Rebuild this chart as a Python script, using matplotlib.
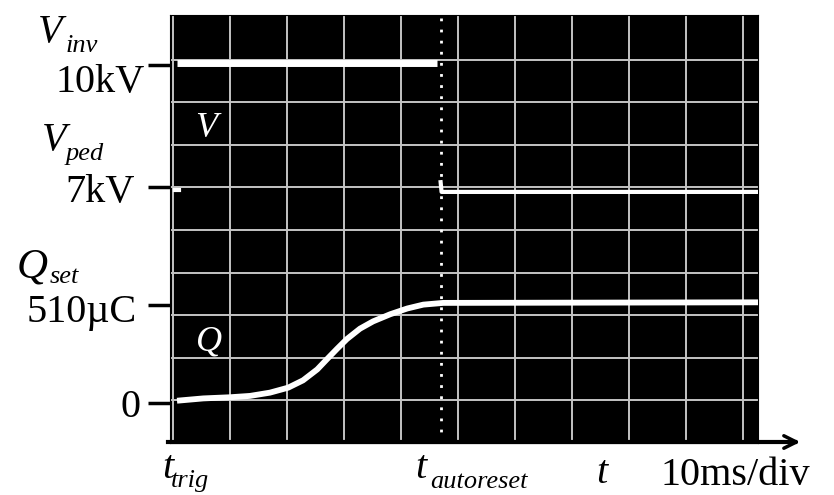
import matplotlib.pyplot as plt

plt.rcParams['font.family'] = ['Liberation Serif', 'DejaVu Serif']

# time in ms (10 ms/div), trigger at t = 0
t_reset = 47.0
v_inv_t = [0.7, 46.3]
v_inv = [10.04, 10.04]
v_ped_t = [46.9, 47.1, 102.6]
v_ped = [7.17, 6.88, 6.88]
v_mark_t = [0.3, 1.0]
v_mark = [6.93, 6.93]
q_t = [0.7, 5.3, 10.0, 13.5, 17.0, 20.2, 22.8, 25.3, 27.0, 28.8, 30.5,
       32.8, 35.1, 38.1, 41.1, 43.9, 47.4, 102.6]
q_uc = [12, 24, 30, 37, 54, 80, 118, 175, 228, 283, 333,
        387, 425, 462, 492, 512, 521, 524]
v_ticks = [10, 7]
q_ticks = [510, 0]

W, H = 834, 495
def fx(px):
    return px / W
def fy(py):
    return 1 - py / H

fig = plt.figure(figsize=(W / 100, H / 100), dpi=100, facecolor='white')
pos = [fx(170), fy(443), (758 - 170) / W, (443 - 15) / H]

# oscilloscope screen with graticule (divisions)
screen = fig.add_axes(pos, facecolor='black')
screen.set_xlim(-0.053, 10.26)
screen.set_ylim(0, 10.05)
for k in range(11):
    screen.axvline(k, color='#c4c4c4', lw=1.4, zorder=1)
for k in range(1, 10):
    screen.axhline(k, color='#c4c4c4', lw=1.4, zorder=1)
screen.set_xticks([])
screen.set_yticks([])
for s in screen.spines.values():
    s.set_color('black')

# voltage channel
ax_v = fig.add_axes(pos, facecolor='none')
ax_v.set_xlim(-0.53, 102.6)
ax_v.set_ylim(0.706, 11.23)
ax_v.plot(v_inv_t, v_inv, color='white', lw=5, solid_capstyle='butt')
ax_v.plot(v_ped_t, v_ped, color='white', lw=3, solid_capstyle='butt')
ax_v.plot(v_mark_t, v_mark, color='white', lw=3)
ax_v.axvline(t_reset, color='white', lw=2, ls=(0, (1, 3)))
ax_v.set_xticks([])
ax_v.set_yticks(v_ticks)
ax_v.set_yticklabels([])
ax_v.tick_params(axis='y', length=16, width=2.5, color='black', direction='out')
for s in ax_v.spines.values():
    s.set_visible(False)

# charge channel
ax_q = ax_v.twinx()
ax_q.set_ylim(-208, 2019)
ax_q.plot(q_t, q_uc, color='white', lw=4.2, solid_capstyle='butt',
          solid_joinstyle='round')
ax_q.yaxis.tick_left()
ax_q.set_yticks(q_ticks)
ax_q.set_yticklabels([])
ax_q.tick_params(axis='y', length=16, width=2.5, color='black', direction='out')
for s in ax_q.spines.values():
    s.set_visible(False)

# time axis arrow
fig.add_artist(plt.Line2D([fx(168), fx(795)], [fy(442), fy(442)],
                          color='black', lw=3))
ax_v.annotate('', xy=(fx(803), fy(442)), xytext=(fx(770), fy(442)),
              xycoords='figure fraction', textcoords='figure fraction',
              arrowprops=dict(arrowstyle='->,head_length=0.9,head_width=0.45',
                              color='black', lw=2.5))

fs = 29
sub_fs = 19

def sym(x, y, main, sub, sx, sy, color='black', size=fs):
    fig.text(fx(x), fy(y), main, fontsize=size, style='italic', color=color,
             ha='left', va='baseline')
    fig.text(fx(sx), fy(sy), sub, fontsize=sub_fs, style='italic', color=color,
             ha='left', va='baseline')

# left labels
fig.text(fx(145), fy(92), '10kV', fontsize=fs, ha='right', va='baseline')
fig.text(fx(135), fy(202), '7kV', fontsize=fs, ha='right', va='baseline')
fig.text(fx(137), fy(322), '510\u00b5C', fontsize=fs, ha='right', va='baseline')
fig.text(fx(140), fy(417), '0', fontsize=fs, ha='right', va='baseline')
sym(38, 42, 'V', 'inv', 66, 52)
sym(42, 150, 'V', 'ped', 66, 160)
sym(17, 277, 'Q', 'set', 50, 283, size=31)

# time labels
sym(162, 478, 't', 'trig', 171, 487)
sym(415, 478, 't', 'autoreset', 430, 488)
fig.text(fx(596), fy(483), 't', fontsize=fs, style='italic', ha='left', va='baseline')
fig.text(fx(660), fy(485), '10ms/div', fontsize=fs, ha='left', va='baseline')

# trace names on the screen
fig.text(fx(195), fy(137), 'V', fontsize=26, style='italic', color='white',
         ha='left', va='baseline')
fig.text(fx(196), fy(350), 'Q', fontsize=26, style='italic', color='white',
         ha='left', va='baseline')

fig.savefig('out.png', dpi=100, facecolor='white')
